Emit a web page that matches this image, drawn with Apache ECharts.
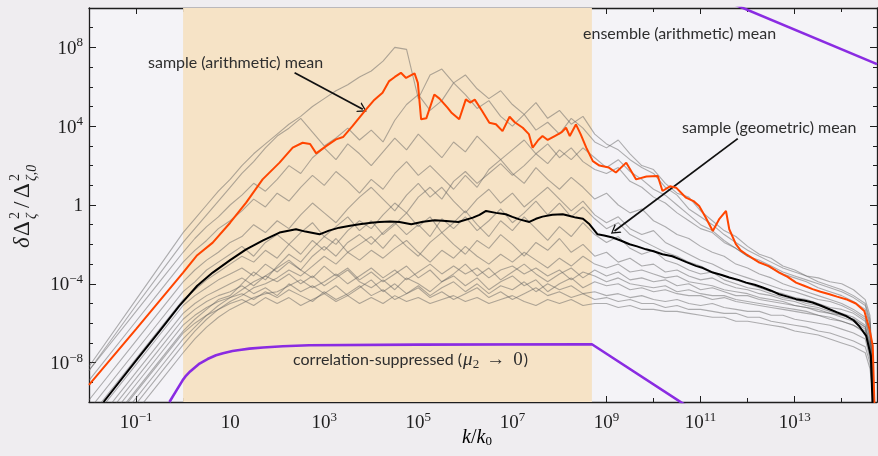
<!DOCTYPE html>
<html>
<head>
<meta charset="utf-8">
<script src="https://cdn.jsdelivr.net/npm/echarts@6/dist/echarts.min.js"></script>
<style>
  html, body { margin: 0; padding: 0; background: #efedf0; }
  #chart { width: 878px; height: 456px; }
</style>
</head>
<body>
<div id="chart"></div>
<script>
// all values are log10 of the plotted quantities (axes are log-log)
const xRange = [-2, 14.75];
const yRange = [-10, 10];
const xMajor = [-1, 1, 3, 5, 7, 9, 11, 13];
const xMinor = [0, 2, 4, 6, 8, 10, 12, 14];
const yMajor = [-8, -4, 0, 4, 8];
const yMinor = [-9, -7, -6, -5, -3, -2, -1, 1, 2, 3, 5, 6, 7, 9];

// shaded band, k/k0 from 1 to ~5e8
const shadeK = [0, 8.69];

// sample (arithmetic) mean
const orangeK = [-2.0, -1, 0, 0.3, 0.63, 1.0, 1.34, 1.69, 2.05, 2.33, 2.54, 2.7, 2.83, 3.04, 3.25, 3.4, 3.6, 3.89, 4.05, 4.24, 4.38, 4.5, 4.63, 4.74, 4.92, 4.99, 5.06, 5.17, 5.34, 5.45, 5.62, 5.7, 5.87, 6.01, 6.1, 6.2, 6.35, 6.51, 6.65, 6.79, 6.94, 7.05, 7.22, 7.35, 7.43, 7.55, 7.64, 7.75, 7.9, 8.05, 8.14, 8.22, 8.35, 8.45, 8.57, 8.71, 8.85, 9.05, 9.2, 9.42, 9.63, 9.85, 10.09, 10.19, 10.35, 10.48, 10.69, 10.85, 10.97, 11.1, 11.26, 11.4, 11.54, 11.61, 11.75, 11.85, 11.97, 12.1, 12.25, 12.45, 12.67, 12.85, 13.03, 13.2, 13.38, 13.55, 13.74, 13.9, 14.09, 14.3, 14.48, 14.59, 14.66, 14.7];
const orangeY = [-9.13, -6.3, -3.43, -2.55, -1.91, -0.9, 0.12, 1.30, 2.15, 2.91, 3.16, 3.1, 2.62, 2.99, 3.33, 3.45, 4.0, 4.85, 5.3, 5.7, 6.29, 6.5, 6.71, 6.45, 6.68, 6.2, 4.35, 4.40, 5.61, 5.4, 4.94, 4.7, 4.35, 5.36, 5.2, 5.35, 4.8, 4.18, 4.1, 3.75, 4.48, 4.2, 3.92, 3.6, 2.91, 3.3, 3.5, 3.3, 3.5, 3.7, 3.92, 3.5, 4.09, 3.6, 2.91, 2.23, 2.0, 1.9, 1.65, 2.15, 1.30, 1.45, 1.47, 0.71, 0.95, 0.88, 0.37, 0.2, -0.05, -0.6, -1.32, -0.7, -0.30, -1.23, -1.99, -2.3, -2.5, -2.7, -2.92, -3.1, -3.43, -3.65, -3.94, -4.1, -4.27, -4.4, -4.53, -4.65, -4.78, -5.0, -5.38, -6.30, -7.14, -10.5];

// sample (geometric) mean
const blackK = [-1.69, -1, -0.5, -0.08, 0.3, 0.63, 1.0, 1.34, 1.7, 2.05, 2.4, 2.6, 2.9, 3.1, 3.32, 3.55, 3.75, 4.0, 4.17, 4.4, 4.6, 4.85, 5.1, 5.35, 5.59, 5.85, 6.16, 6.3, 6.44, 6.65, 6.86, 7.0, 7.15, 7.36, 7.5, 7.64, 7.85, 8.07, 8.2, 8.35, 8.5, 8.64, 8.81, 8.95, 9.13, 9.3, 9.49, 9.65, 9.84, 10.0, 10.19, 10.4, 10.55, 10.7, 10.9, 11.05, 11.26, 11.45, 11.61, 11.8, 11.97, 12.15, 12.32, 12.5, 12.67, 12.85, 13.03, 13.2, 13.38, 13.55, 13.74, 13.9, 14.09, 14.25, 14.37, 14.52, 14.62, 14.66];
const blackY = [-10, -7.9, -6.4, -5.12, -4.1, -3.43, -2.8, -2.25, -1.8, -1.40, -1.23, -1.35, -1.49, -1.3, -1.15, -1.05, -0.98, -0.9, -0.86, -0.84, -0.86, -0.98, -0.85, -0.78, -0.81, -0.86, -0.64, -0.5, -0.30, -0.4, -0.47, -0.6, -0.73, -0.86, -0.7, -0.59, -0.5, -0.47, -0.55, -0.64, -0.7, -0.98, -1.49, -1.55, -1.65, -1.8, -1.99, -2.1, -2.25, -2.35, -2.5, -2.6, -2.75, -2.9, -3.09, -3.2, -3.43, -3.55, -3.68, -3.8, -3.94, -4.05, -4.19, -4.35, -4.53, -4.65, -4.78, -4.85, -4.95, -5.1, -5.29, -5.45, -5.63, -5.85, -6.14, -6.64, -7.66, -10.5];

// correlation-suppressed and ensemble (arithmetic) mean
const suppK = [-0.29, -0.15, -0.01, 0.05, 0.15, 0.25, 0.35, 0.52, 0.70, 0.85, 1.05, 1.2, 1.41, 1.7, 2.12, 2.68, 5, 8.69, 11.0];
const suppY = [-10.0, -9.45, -8.9, -8.7, -8.45, -8.25, -8.05, -7.82, -7.63, -7.52, -7.41, -7.36, -7.29, -7.23, -7.17, -7.12, -7.09, -7.07, -10.66];
const ensK = [11.5, 14.75];
const ensY = [10.4, 7.15];

// individual samples, on a common k grid
const grayK = [-2, -1, -0.5, 0, 0.25, 0.5, 0.75, 1, 1.25, 1.5, 1.75, 2, 2.25, 2.5, 2.75, 3, 3.25, 3.5, 3.75, 4, 4.25, 4.5, 4.75, 5, 5.25, 5.5, 5.75, 6, 6.25, 6.5, 6.75, 7, 7.25, 7.5, 7.75, 8, 8.25, 8.5, 8.75, 9, 9.25, 9.5, 9.75, 10, 10.25, 10.5, 10.75, 11, 11.25, 11.5, 11.75, 12, 12.25, 12.5, 12.75, 13, 13.25, 13.5, 13.75, 14, 14.25, 14.5, 14.6, 14.7];
const sampleRuns = [
  [-8.2, -4.8, -3.1, -1.4, -0.7, 0.0, 0.7, 1.3, 2.0, 2.6, 3.1, 3.6, 4.1, 4.5, 5.0, 5.4, 5.8, 6.1, 6.5, 6.8, 7.3, 8.0, 7.9, 5.4, 6.6, 6.9, 6.2, 6.6, 5.9, 5.4, 5.8, 5.1, 4.6, 5.2, 4.4, 4.8, 4.1, 4.5, 3.6, 3.1, 2.8, 2.3, 1.9, 1.6, 0.9, 0.5, -0.2, -0.6, -1.0, -1.5, -1.9, -2.3, -2.6, -2.9, -3.2, -3.4, -3.6, -3.7, -3.9, -4.0, -4.3, -4.8, -5.6, -10.5],
  [-8.4, -5.1, -3.5, -1.9, -1.2, -0.5, 0.2, 0.9, 1.6, 2.2, 2.9, 3.5, 3.9, 4.4, 3.7, 3.0, 3.4, 3.9, 3.3, 3.8, 3.2, 4.3, 5.1, 5.6, 4.8, 5.3, 6.2, 5.6, 4.9, 5.3, 4.5, 4.0, 4.6, 3.8, 4.2, 3.6, 4.4, 3.9, 3.2, 2.9, 3.3, 2.6, 2.0, 1.8, 1.1, 0.6, 0.4, -0.3, -0.8, -1.3, -1.6, -2.1, -2.5, -2.7, -3.1, -3.3, -3.6, -3.9, -4.1, -4.3, -4.6, -5.0, -5.8, -10.5],
  [-8.4, -5.4, -3.9, -2.4, -1.7, -1.1, -0.6, 0.0, 0.5, 1.1, 0.7, 1.3, 2.0, 1.6, 2.4, 2.9, 2.3, 3.1, 2.6, 2.0, 2.7, 3.4, 2.8, 3.6, 3.0, 2.4, 3.2, 2.7, 3.5, 2.9, 2.3, 2.8, 3.3, 2.6, 3.1, 2.4, 2.9, 2.2, 1.8, 1.6, 1.9, 1.2, 0.9, 0.4, 0.1, -0.4, -0.8, -1.2, -1.4, -1.9, -2.2, -2.6, -2.9, -3.2, -3.5, -3.7, -3.9, -4.2, -4.4, -4.6, -4.9, -5.3, -6.1, -10.5],
  [-8.9, -5.9, -4.4, -2.9, -2.3, -1.8, -1.2, -0.8, -0.3, 0.3, -0.1, 0.6, 0.2, 0.9, 1.5, 1.0, 1.7, 1.2, 0.6, 1.3, 0.8, 1.6, 2.2, 1.5, 2.0, 1.4, 0.8, 1.5, 0.9, 1.8, 2.3, 1.6, 1.1, 1.9, 1.3, 0.8, 1.4, 0.9, 0.3, 0.6, 0.0, -0.4, -0.2, -0.8, -1.1, -1.5, -1.7, -2.1, -2.4, -2.6, -3.0, -3.2, -3.5, -3.7, -4.0, -4.2, -4.4, -4.6, -4.8, -5.0, -5.3, -5.7, -6.5, -10.5],
  [-9.9, -6.9, -5.4, -3.9, -3.3, -2.8, -2.4, -1.9, -1.6, -1.0, -1.4, -0.8, -1.2, -0.5, 0.1, -0.4, -0.9, -0.2, 0.4, 0.9, 0.3, -0.3, 0.5, 1.1, 0.4, 0.9, 0.2, -0.4, 0.3, 0.8, 0.1, 0.6, -0.1, 0.4, 0.9, 0.3, -0.3, 0.2, -0.5, -0.9, -0.6, -1.2, -1.5, -1.3, -1.9, -2.2, -2.5, -2.8, -3.0, -3.3, -3.5, -3.7, -3.9, -4.1, -4.3, -4.4, -4.6, -4.8, -4.9, -5.1, -5.4, -5.8, -6.7, -10.5],
  [-10.4, -7.4, -5.9, -4.4, -3.9, -3.3, -2.9, -2.5, -2.1, -2.6, -1.9, -1.5, -2.0, -1.4, -0.9, -1.6, -1.1, -0.6, -1.3, -0.8, -1.5, -1.0, -0.4, -1.1, -0.6, -1.4, -0.9, -0.3, -1.0, -1.6, -0.8, -1.3, -0.6, -1.2, -1.8, -1.1, -1.6, -0.9, -1.5, -1.9, -1.6, -2.2, -2.5, -2.3, -2.8, -3.0, -3.3, -3.5, -3.4, -3.8, -4.0, -4.2, -4.3, -4.5, -4.7, -4.8, -5.0, -5.1, -5.3, -5.5, -5.7, -6.1, -7.0, -10.5],
  [-10.8, -7.8, -6.3, -4.8, -4.3, -3.8, -3.4, -3.0, -2.6, -2.9, -2.3, -2.7, -2.0, -2.5, -1.8, -2.3, -1.7, -2.4, -2.0, -1.6, -2.2, -1.5, -2.1, -2.6, -1.9, -1.4, -2.0, -2.5, -1.8, -2.2, -1.5, -2.0, -2.6, -1.9, -2.3, -1.7, -2.4, -2.0, -2.6, -2.4, -2.9, -2.7, -3.1, -3.0, -3.4, -3.3, -3.6, -3.8, -3.7, -4.0, -4.2, -4.3, -4.5, -4.6, -4.8, -4.9, -5.1, -5.2, -5.4, -5.6, -5.8, -6.2, -7.2, -10.5],
  [-11.1, -8.1, -6.6, -5.1, -4.6, -4.2, -3.8, -3.5, -3.2, -3.6, -3.0, -3.4, -2.9, -3.3, -3.7, -3.1, -3.6, -3.2, -3.8, -3.4, -3.9, -3.5, -3.1, -3.7, -3.3, -3.9, -3.5, -3.0, -3.6, -3.2, -3.8, -3.4, -3.0, -3.5, -3.9, -3.5, -3.2, -3.7, -3.3, -3.6, -3.4, -3.8, -3.7, -3.9, -3.8, -4.1, -4.0, -4.3, -4.2, -4.4, -4.6, -4.6, -4.8, -4.9, -5.0, -5.1, -5.2, -5.4, -5.5, -5.7, -5.9, -6.3, -7.4, -10.5],
  [-11.5, -8.5, -7.0, -5.5, -5.0, -4.6, -4.3, -4.0, -3.7, -4.1, -3.6, -3.9, -3.5, -4.0, -3.6, -4.1, -3.7, -3.3, -3.9, -4.2, -3.8, -4.3, -3.7, -4.0, -4.4, -3.9, -3.6, -4.1, -3.7, -4.3, -3.9, -3.6, -4.1, -3.8, -4.4, -4.0, -3.7, -4.2, -3.9, -4.1, -4.0, -4.3, -4.2, -4.4, -4.3, -4.5, -4.6, -4.6, -4.8, -4.7, -4.9, -5.0, -5.1, -5.2, -5.3, -5.4, -5.5, -5.6, -5.8, -5.9, -6.1, -6.5, -7.6, -10.5],
  [-11.8, -8.8, -7.3, -5.8, -5.3, -4.9, -4.6, -4.4, -4.1, -4.5, -4.2, -4.6, -4.0, -4.4, -4.1, -4.5, -4.1, -4.6, -4.2, -3.8, -4.4, -4.0, -4.5, -4.1, -4.6, -4.2, -3.9, -4.4, -4.0, -4.5, -4.1, -4.3, -3.9, -4.4, -4.0, -4.3, -4.1, -4.5, -4.4, -4.6, -4.5, -4.7, -4.6, -4.8, -4.9, -4.8, -5.0, -5.1, -5.0, -5.2, -5.3, -5.4, -5.4, -5.6, -5.6, -5.8, -5.9, -6.0, -6.1, -6.3, -6.5, -6.8, -7.8, -10.5],
  [-12.1, -9.1, -7.6, -6.1, -5.6, -5.2, -4.9, -4.7, -4.5, -4.8, -4.4, -4.7, -4.3, -4.6, -4.9, -4.4, -4.8, -4.5, -4.1, -4.6, -4.3, -4.8, -4.5, -4.2, -4.7, -4.4, -4.8, -4.5, -4.2, -4.7, -4.4, -4.8, -4.5, -4.2, -4.6, -4.4, -4.7, -4.5, -4.8, -4.7, -4.9, -4.8, -5.0, -5.0, -5.2, -5.1, -5.3, -5.3, -5.4, -5.5, -5.5, -5.7, -5.7, -5.9, -6.0, -6.1, -6.2, -6.4, -6.5, -6.7, -6.9, -7.2, -8.0, -10.5],
  [-12.5, -9.5, -8.0, -6.5, -6.0, -5.6, -5.3, -5.0, -4.8, -5.1, -4.7, -5.0, -4.7, -5.1, -4.8, -4.5, -4.9, -4.6, -5.0, -4.7, -5.0, -4.6, -4.9, -4.7, -5.0, -4.8, -4.6, -4.9, -4.7, -5.0, -4.8, -4.6, -4.9, -5.1, -4.8, -5.0, -4.8, -5.1, -5.0, -5.0, -5.2, -5.1, -5.3, -5.3, -5.4, -5.4, -5.5, -5.6, -5.7, -5.7, -5.9, -5.9, -6.0, -6.1, -6.2, -6.4, -6.5, -6.6, -6.8, -7.0, -7.2, -7.5, -8.3, -10.5],
  [-12.4, -9.4, -7.9, -6.4, -5.8, -5.3, -4.8, -4.6, -4.0, -3.4, -3.8, -3.1, -2.5, -2.9, -2.2, -1.6, -2.0, -1.3, -0.8, -1.2, -0.5, 0.1, -0.4, 0.4, 0.9, 0.3, 1.2, 1.7, 1.1, 1.6, 2.1, 1.5, 2.0, 2.6, 2.1, 2.8, 2.3, 2.9, 2.4, 1.9, 2.3, 1.7, 1.3, 0.8, 0.5, 0.0, -0.5, -1.0, -1.3, -1.8, -2.2, -2.6, -2.8, -3.1, -3.4, -3.6, -3.8, -4.0, -4.2, -4.4, -4.7, -5.1, -6.0, -10.5],
  [-12.8, -9.8, -8.3, -6.8, -6.2, -5.6, -5.1, -4.7, -4.3, -3.9, -3.6, -3.2, -2.8, -3.3, -2.6, -2.1, -2.6, -1.9, -1.5, -2.0, -1.4, -0.9, -1.5, -1.0, -1.6, -0.7, -1.2, -0.6, -1.3, -0.8, -0.2, -0.9, -0.4, 0.2, -0.5, 0.1, -0.6, -0.1, -0.7, -1.2, -0.9, -1.5, -1.8, -2.1, -2.4, -2.6, -2.9, -3.1, -3.4, -3.6, -3.8, -4.0, -4.2, -4.4, -4.5, -4.7, -4.8, -5.0, -5.2, -5.3, -5.5, -5.9, -6.8, -10.5],
  [-13.1, -10.1, -8.6, -7.1, -6.4, -5.8, -5.3, -4.9, -4.6, -4.2, -4.0, -3.7, -3.3, -3.6, -3.1, -2.6, -3.0, -2.4, -2.8, -2.3, -2.7, -2.2, -1.8, -2.4, -2.9, -2.3, -2.7, -2.1, -2.6, -3.0, -2.5, -2.9, -2.4, -2.8, -3.2, -2.7, -3.1, -2.6, -3.0, -3.2, -3.0, -3.4, -3.3, -3.5, -3.7, -3.6, -3.9, -4.0, -4.1, -4.3, -4.4, -4.5, -4.7, -4.8, -4.9, -5.1, -5.2, -5.3, -5.5, -5.6, -5.8, -6.2, -7.1, -10.5],
  [-13.5, -10.5, -9.0, -7.5, -6.8, -6.2, -5.7, -5.3, -5.0, -4.7, -4.5, -4.4, -4.1, -3.8, -4.2, -3.9, -3.5, -4.0, -3.6, -3.2, -3.7, -3.3, -3.8, -3.4, -3.0, -3.5, -3.1, -3.5, -3.2, -3.7, -3.3, -3.1, -3.5, -3.2, -3.6, -3.3, -3.8, -3.4, -3.6, -3.9, -3.7, -4.0, -4.1, -4.2, -4.1, -4.4, -4.3, -4.5, -4.6, -4.6, -4.8, -4.9, -5.0, -5.1, -5.2, -5.3, -5.4, -5.6, -5.7, -5.9, -6.1, -6.4, -7.3, -10.5]
];

// annotation arrows (tail, head)
const arrowArith = [[2.37, 6.71], [3.82, 4.86]];
const arrowGeo = [[11.79, 3.37], [9.17, -1.32]];

const serif = '"Liberation Serif", "DejaVu Serif", serif';
const sans = 'Lato, "Open Sans", sans-serif';
const ink = '#1e1e1e';
const textInk = '#2e2e2e';

const pairs = (xs, ys) => xs.map((x, i) => [x, ys[i]]);

const labelRich = {
  b: { fontFamily: serif, fontSize: 19, color: ink, lineHeight: 22, verticalAlign: 'bottom' },
  s: { fontFamily: serif, fontSize: 13, color: ink, lineHeight: 13, verticalAlign: 'top' }
};
function expLabel(v) {
  if (v === 0) return '{b|1}';
  if (v === 1) return '{b|10}';
  return '{b|10}{s|' + String(v).replace('-', '\u2212') + '}';
}

function makeAxis(kind, position, ticks, len, withLabels, withLine) {
  const range = kind === 'x' ? xRange : yRange;
  return {
    type: 'value',
    position: position,
    min: range[0],
    max: range[1],
    splitLine: { show: false },
    axisLine: { show: withLine, onZero: false, lineStyle: { color: ink, width: 1.3 } },
    axisTick: { show: true, inside: true, length: len, customValues: ticks, lineStyle: { color: ink, width: 1 } },
    axisLabel: withLabels ? {
      show: true, customValues: ticks, margin: kind === 'x' ? 9 : 6,
      formatter: expLabel, rich: labelRich
    } : { show: false }
  };
}

// the "correlation-suppressed (mu_2 -> 0)" label, laid out piece by piece
const measureCtx = document.createElement('canvas').getContext('2d');
function textWidth(str, font) { measureCtx.font = font; return measureCtx.measureText(str).width; }
const corrPieces = [
  { text: 'correlation-suppressed (', font: '16px ' + sans, dy: 0, gap: 1 },
  { text: '\u03bc', font: 'italic 19px ' + serif, dy: 0, gap: 0 },
  { text: '2', font: '13px ' + serif, dy: 5, gap: 7 },
  { text: '\u2192', font: '19px ' + serif, dy: 0, gap: 8 },
  { text: '0', font: '19px ' + serif, dy: 0, gap: 1 },
  { text: ')', font: '16px ' + sans, dy: 0, gap: 0 }
];
const corrText = [];
let cursor = 293;
corrPieces.forEach(p => {
  corrText.push({ type: 'text', z: 50, x: cursor, y: 360 + p.dy, style: { text: p.text, font: p.font, fill: textInk, verticalAlign: 'middle' } });
  cursor += textWidth(p.text, p.font) + p.gap;
});

const grayStyle = { color: 'rgba(95,95,95,0.48)', width: 1.1 };
const series = [];
series.push({
  type: 'line', data: [], silent: true, z: 1,
  markArea: {
    silent: true,
    itemStyle: { color: '#f6e3c6' },
    data: [[{ xAxis: shadeK[0] }, { xAxis: shadeK[1] }]]
  }
});
sampleRuns.forEach(run => {
  series.push({
    type: 'line', data: pairs(grayK, run), symbol: 'none', silent: true, z: 3,
    lineStyle: grayStyle
  });
});
series.push({ type: 'line', data: pairs(suppK, suppY), symbol: 'none', z: 4, lineStyle: { color: '#8a2be2', width: 2.6 } });
series.push({ type: 'line', data: pairs(ensK, ensY), symbol: 'none', z: 4, lineStyle: { color: '#8a2be2', width: 2.6 } });
series.push({ type: 'line', data: pairs(orangeK, orangeY), symbol: 'none', z: 5, lineStyle: { color: '#ff4500', width: 2 } });
series.push({
  type: 'line', data: pairs(blackK, blackY), symbol: 'none', z: 6,
  lineStyle: { color: '#000', width: 2 },
  markLine: {
    silent: true,
    symbol: ['none', 'path://M0,10 L5,0 L10,10 L8.6,10 L5,2.6 L1.4,10 Z'],
    symbolSize: [11, 9],
    label: { show: false },
    lineStyle: { color: '#111', width: 1.8, type: 'solid' },
    data: [
      [{ coord: arrowArith[0] }, { coord: arrowArith[1] }],
      [{ coord: arrowGeo[0] }, { coord: arrowGeo[1] }]
    ]
  }
});

const chart = echarts.init(document.getElementById('chart'));
chart.setOption({
  animation: false,
  backgroundColor: '#efedf0',
  grid: { left: 89, right: 1, top: 8, bottom: 54, show: true, backgroundColor: '#f4f3f7', borderWidth: 0 },
  xAxis: [
    makeAxis('x', 'bottom', xMajor, 6, true, true),
    makeAxis('x', 'bottom', xMinor, 4, false, false),
    makeAxis('x', 'top', xMajor, 6, false, true),
    makeAxis('x', 'top', xMinor, 4, false, false)
  ],
  yAxis: [
    makeAxis('y', 'left', yMajor, 7, true, true),
    makeAxis('y', 'left', yMinor, 4, false, false),
    makeAxis('y', 'right', yMajor, 7, false, true),
    makeAxis('y', 'right', yMinor, 4, false, false)
  ],
  series: series,
  graphic: [
    { type: 'text', z: 50, x: 148, y: 63, style: { text: 'sample (arithmetic) mean', font: '16px ' + sans, fill: textInk, verticalAlign: 'middle' } },
    { type: 'text', z: 50, x: 583, y: 34, style: { text: 'ensemble (arithmetic) mean', font: '16px ' + sans, fill: textInk, verticalAlign: 'middle' } },
    { type: 'text', z: 50, x: 682, y: 128, style: { text: 'sample (geometric) mean', font: '16px ' + sans, fill: textInk, verticalAlign: 'middle' } },
    { type: 'group', z: 50, children: corrText },
    {
      type: 'text', z: 50, x: 477, y: 437,
      style: {
        text: '{i|k}{n|/}{i|k}{s|0}', align: 'center', verticalAlign: 'middle',
        rich: {
          i: { fontFamily: serif, fontStyle: 'italic', fontSize: 20, color: ink, lineHeight: 22, verticalAlign: 'bottom' },
          n: { fontFamily: serif, fontSize: 20, color: ink, lineHeight: 22, verticalAlign: 'bottom' },
          s: { fontFamily: serif, fontSize: 13, color: ink, lineHeight: 13, verticalAlign: 'bottom' }
        }
      }
    },
    {
      type: 'group', z: 50, x: 23, y: 248, rotation: Math.PI / 2,
      children: [
        { type: 'text', x: 0, y: 0, style: { text: '\u03b4', font: 'italic 23px ' + serif, fill: ink, verticalAlign: 'middle' } },
        { type: 'text', x: 12, y: 0, style: { text: '\u0394', font: '23px ' + serif, fill: ink, verticalAlign: 'middle' } },
        { type: 'text', x: 29, y: -8, style: { text: '2', font: '14px ' + serif, fill: ink, verticalAlign: 'middle' } },
        { type: 'text', x: 29, y: 9, style: { text: '\u03b6', font: 'italic 14px ' + serif, fill: ink, verticalAlign: 'middle' } },
        { type: 'text', x: 40, y: 0, style: { text: '/', font: '23px ' + serif, fill: ink, verticalAlign: 'middle' } },
        { type: 'text', x: 50, y: 0, style: { text: '\u0394', font: '23px ' + serif, fill: ink, verticalAlign: 'middle' } },
        { type: 'text', x: 67, y: -8, style: { text: '2', font: '14px ' + serif, fill: ink, verticalAlign: 'middle' } },
        { type: 'text', x: 67, y: 9, style: { text: '\u03b6,0', font: 'italic 14px ' + serif, fill: ink, verticalAlign: 'middle' } }
      ]
    }
  ]
});
</script>
</body>
</html>
